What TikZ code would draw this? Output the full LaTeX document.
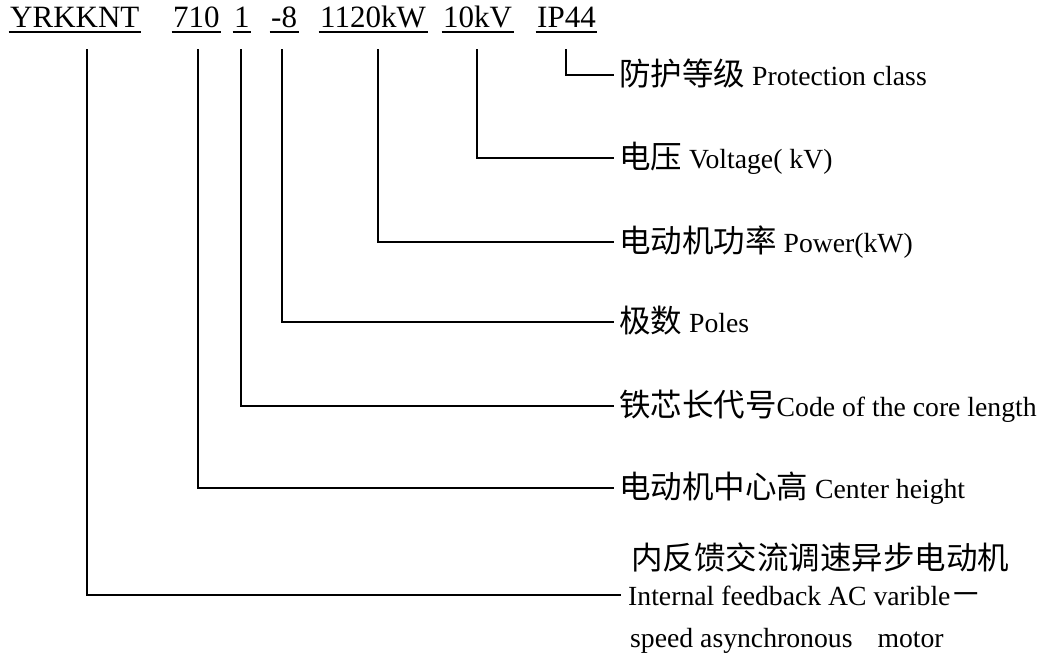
\documentclass[tikz,border=0pt]{standalone}
\usepackage{fontspec}
\setmainfont{Liberation Serif}
\newfontfamily\cjk{Noto Sans CJK SC}
\newcommand\zhtxt[1]{{\cjk\fontsize{31.5}{36}\selectfont #1}}
\begin{document}
\begin{tikzpicture}[x=1pt,y=-1pt,
  conn/.style={line width=2.5pt, line join=miter},
  ul/.style={line width=1.8pt},
  code/.style={anchor=base west, inner sep=0pt, font=\fontsize{31}{36}\selectfont},
  lab/.style={anchor=west, inner xsep=5pt, inner ysep=0pt, text height=22pt, text depth=2pt, font=\fontsize{27.7}{32}\selectfont},
  plain/.style={anchor=base west, inner sep=0pt, font=\fontsize{27.7}{32}\selectfont}]
\useasboundingbox (0,0) rectangle (1051,657);

% model code parts
\node[code] (c1) at (10,27) {YRKKNT};
\node[code] (c2) at (173,27) {710};
\node[code] (c3) at (234,27) {1};
\node[code] (c4) at (271,27) {-8};
\node[code] (c5) at (320,27) {1120kW};
\node[code] (c6) at (443,27) {10kV};
\node[code] (c7) at (537,27) {IP44};
\foreach \c in {c1,c2,c3,c4,c5,c6,c7}
  \draw[ul] ([xshift=-1.5pt,yshift=-5pt]\c.base west) -- ([xshift=1.5pt,yshift=-5pt]\c.base east);

% start points of connectors
\coordinate (s1) at (87,49);
\coordinate (s2) at (198,49);
\coordinate (s3) at (241,49);
\coordinate (s4) at (282,49);
\coordinate (s5) at (378,49);
\coordinate (s6) at (477,49);
\coordinate (s7) at (566,49);

% labels
\node[lab] (l7) at (614,75) {\zhtxt{防护等级} Protection class};
\node[lab] (l6) at (614,158) {\zhtxt{电压} Voltage( kV)};
\node[lab] (l5) at (614,242) {\zhtxt{电动机功率} Power(kW)};
\node[lab] (l4) at (614,322) {\zhtxt{极数} Poles};
\node[lab] (l3) at (614,406) {\zhtxt{铁芯长代号}Code of the core length};
\node[lab] (l2) at (614,488) {\zhtxt{电动机中心高} Center height};
\node[plain] (cn) at (631,569) {\zhtxt{内反馈交流调速异步电动机}};
\node[lab, inner xsep=7pt] (l1) at (621,595) {Internal feedback AC varible\zhtxt{－}};
\node[plain] (sp) at (630,647) {speed asynchronous\hspace{25pt}motor};

% connectors
\draw[conn] (s7) |- (l7.west);
\draw[conn] (s6) |- (l6.west);
\draw[conn] (s5) |- (l5.west);
\draw[conn] (s4) |- (l4.west);
\draw[conn] (s3) |- (l3.west);
\draw[conn] (s2) |- (l2.west);
\draw[conn] (s1) |- (l1.west);
\end{tikzpicture}
\end{document}
